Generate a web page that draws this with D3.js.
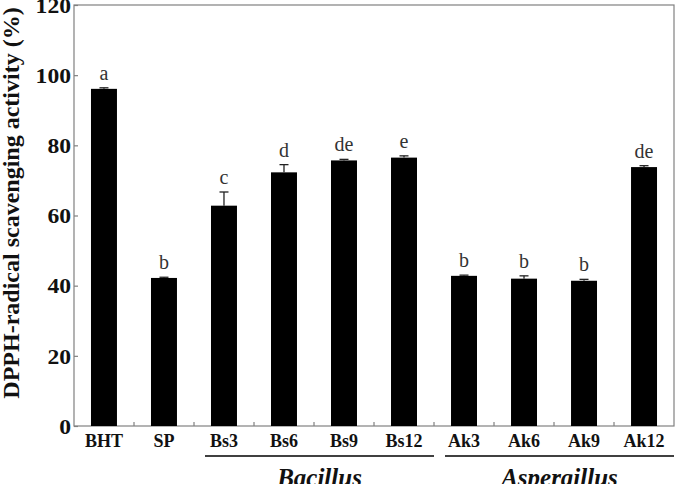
<!DOCTYPE html>
<html><head><meta charset="utf-8">
<script src="https://cdn.jsdelivr.net/npm/d3@7"></script>
<style>body{margin:0;background:#fff;}svg{display:block;}</style>
</head><body>
<svg id="chart" width="677" height="484"></svg>
<script>
const categories = ["BHT","SP","Bs3","Bs6","Bs9","Bs12","Ak3","Ak6","Ak9","Ak12"];
const values = [96.1, 42.2, 62.8, 72.3, 75.7, 76.5, 42.8, 42.0, 41.4, 73.8];
const errors = [0.3, 0.2, 3.9, 2.2, 0.3, 0.5, 0.2, 0.8, 0.4, 0.4];
const letters = ["a","b","c","d","de","e","b","b","b","de"];
const yTicks = [0,20,40,60,80,100,120];
const groups = [
  {name:"Bacillus", from:"Bs3", to:"Bs12"},
  {name:"Aspergillus", from:"Ak3", to:"Ak12"}
];

const svg = d3.select("#chart");
const L = 74, R = 674, T = 5, B = 426;
const x = d3.scaleBand().domain(categories).range([L, R]).paddingInner(0.567).paddingOuter(0.283);
const band = d3.scaleBand().domain(categories).range([L, R]);
const y = d3.scaleLinear().domain([0,120]).range([B, T]);
const axisCol = "#808080";
const serif = "'Liberation Serif','Times New Roman',serif";

// frame
svg.append("rect").attr("x", L).attr("y", T).attr("width", R-L).attr("height", B-T)
  .attr("fill","none").attr("stroke", axisCol).attr("stroke-width",1.2);

// y axis ticks (inward)
const yAxis = d3.axisLeft(y).tickValues(yTicks).tickSizeInner(-4).tickSizeOuter(0).tickPadding(7);
const gy = svg.append("g").attr("transform",`translate(${L},0)`).call(yAxis);
gy.select(".domain").remove();
gy.selectAll(".tick line").attr("stroke", axisCol).attr("stroke-width",1.2);
gy.selectAll(".tick text").attr("font-family", serif).attr("font-weight","bold")
  .style("font-size","20px").attr("fill","#111").attr("dy","0.36em").attr("x", -3)
  .attr("lengthAdjust","spacingAndGlyphs")
  .attr("textLength", function(){ return this.getComputedTextLength()*1.18; });

// x boundary ticks (inward)
const bounds = categories.slice(1).map(c => band(c));
svg.append("g").selectAll("line").data(bounds).join("line")
  .attr("x1", d=>d).attr("x2", d=>d).attr("y1", B).attr("y2", B-4)
  .attr("stroke", axisCol).attr("stroke-width",1.2);

// x labels
svg.append("g").selectAll("text").data(categories).join("text")
  .attr("x", d=>x(d)+x.bandwidth()/2).attr("y", 447)
  .attr("text-anchor","middle").attr("font-family", serif).attr("font-weight","bold")
  .attr("font-size",18).attr("fill","#111").text(d=>d);

// bars
const data = categories.map((c,i)=>({c, v:values[i], e:errors[i], l:letters[i]}));
svg.append("g").selectAll("rect").data(data).join("rect")
  .attr("x", d=>x(d.c)).attr("width", x.bandwidth())
  .attr("y", d=>y(d.v)).attr("height", d=>y(0)-y(d.v)).attr("fill","#000");

// error bars
const eg = svg.append("g").attr("stroke","#222").attr("stroke-width",1.3);
data.forEach(d=>{
  const cx = x(d.c)+x.bandwidth()/2;
  eg.append("line").attr("x1",cx).attr("x2",cx).attr("y1",y(d.v)).attr("y2",y(d.v+d.e));
  eg.append("line").attr("x1",cx-4.5).attr("x2",cx+4.5).attr("y1",y(d.v+d.e)).attr("y2",y(d.v+d.e));
});

// letters
svg.append("g").selectAll("text").data(data).join("text")
  .attr("x", d=>x(d.c)+x.bandwidth()/2).attr("y", d=>y(d.v+d.e)-8)
  .attr("text-anchor","middle").attr("font-family", serif)
  .attr("font-size",20).attr("fill","#333").text(d=>d.l);

// group lines & labels
groups.forEach(g=>{
  const x0 = band(g.from)+11, x1 = band(g.to)+band.bandwidth();
  svg.append("line").attr("x1",x0).attr("x2",x1).attr("y1",456).attr("y2",456)
    .attr("stroke","#000").attr("stroke-width",1.5);
  svg.append("text").attr("x",(x0+x1)/2).attr("y",486).attr("text-anchor","middle")
    .attr("font-family",serif).attr("font-weight","bold").attr("font-style","italic")
    .attr("font-size",25).attr("fill","#111").text(g.name);
});

// y title
svg.append("text").attr("transform",`translate(19,${203}) rotate(-90)`)
  .attr("text-anchor","middle").attr("font-family",serif).attr("font-weight","bold")
  .attr("font-size",24).attr("fill","#111")
  .text("DPPH-radical scavenging activity (%)");
</script>
</body></html>
